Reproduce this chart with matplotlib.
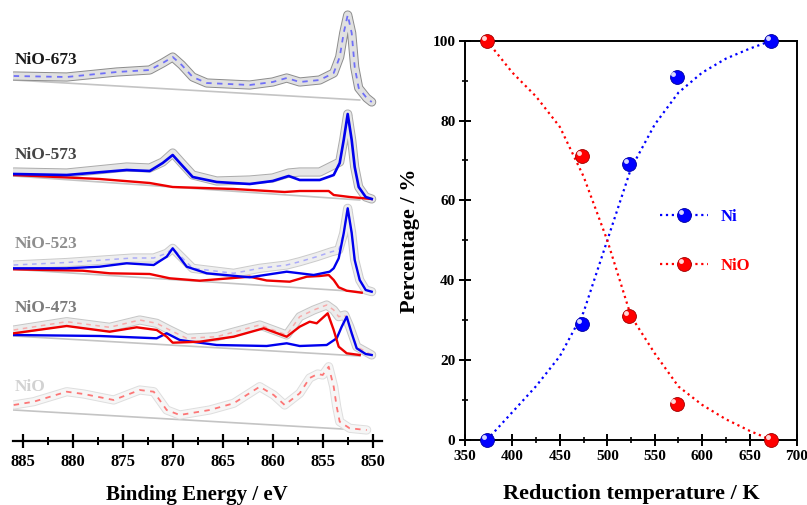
import numpy as np
import matplotlib
matplotlib.use("Agg")
import matplotlib.pyplot as plt
import matplotlib.patheffects as pe
from matplotlib.lines import Line2D
from matplotlib.legend_handler import HandlerLine2D
from matplotlib.transforms import ScaledTranslation
from matplotlib.ticker import MultipleLocator

plt.rcParams['font.family'] = ['Liberation Serif', 'DejaVu Serif']
plt.rcParams['font.weight'] = 'bold'

# ---- left panel: Ni 2p XPS spectra (binding energy in eV, stacked intensity a.u.) ----
ev_673 = [885.9, 880.6, 875.6, 872.3, 871.0, 870.0, 869.1, 868.0, 866.6, 862.3, 860.0, 858.6,
          857.3, 855.3, 853.9, 853.3, 852.9, 852.5, 852.1, 851.8, 851.4, 850.6, 850.1]
data_673 = [365, 364, 369, 371, 378, 384, 376, 364, 358, 356, 359, 363,
            359, 361, 368, 384, 408, 426, 408, 374, 353, 343, 339]

ev_573 = [885.9, 880.6, 874.6, 872.3, 871.0, 870.0, 869.1, 868.0, 865.6, 862.3, 860.0, 858.4,
          857.3, 855.3, 853.9, 853.3, 852.9, 852.5, 852.1, 851.8, 851.4, 850.7, 850.1]
data_573 = [269, 268, 274, 273, 279, 288, 278, 266, 260, 261, 263, 268,
            269, 269, 276, 279, 301, 327, 301, 274, 254, 244, 242]
ni_573 = [267, 266, 271, 270, 278, 286, 276, 264, 259, 257, 260, 265,
          261, 261, 266, 278, 301, 327, 301, 274, 254, 244, 242]
ev_573_nio = [885.9, 877.3, 872.3, 870.0, 863.9, 858.8, 857.3, 854.4, 853.9, 852.3, 850.1]
nio_573 = [266, 262, 258, 254, 252, 249, 250, 250, 246, 244, 242]

ev_523 = [885.9, 880.6, 874.0, 871.9, 870.6, 870.0, 868.0, 863.9, 861.3, 858.6, 857.3, 855.6,
          854.1, 853.4, 852.9, 852.5, 852.1, 851.8, 851.3, 850.7, 850.1]
data_523 = [176, 178.5, 183, 183, 187.7, 192.7, 172.7, 167.7, 172.7, 176, 179.3, 184.3,
            189.3, 191, 207.7, 232.7, 208, 181, 161, 151, 149.3]
ev_523_ni = [885.9, 880.6, 877.3, 874.6, 871.9, 870.6, 870.0, 868.6, 866.6, 862.3, 858.6, 855.9,
             854.3, 853.9, 853.4, 852.9, 852.5, 852.1, 851.8, 851.3, 850.7, 850.1]
ni_523 = [172.7, 172.7, 174.3, 177.7, 176, 184.3, 192.7, 174.3, 167.7, 163.7, 169.3, 166,
          169.3, 172.7, 182.7, 207.7, 232.7, 208, 181, 161, 151, 149.3]
ev_523_nio = [885.9, 879.0, 876.3, 872.3, 870.3, 867.3, 862.3, 860.6, 858.3, 856.6, 855.3, 854.4,
              853.9, 853.4, 852.6, 851.1]
nio_523 = [171.7, 170.3, 167.7, 167, 162.7, 160.3, 164.3, 160.5, 159.3, 164.3, 165, 166,
           161, 153.7, 150.3, 148.3]

ev_473 = [885.9, 880.6, 876.3, 873.3, 871.6, 870.3, 868.6, 865.6, 861.3, 858.6, 857.3, 855.9,
          854.6, 853.9, 853.4, 852.8, 852.3, 851.6, 850.1]
data_473 = [111, 119.3, 113.7, 121, 117.7, 111, 102.7, 104.3, 116, 106, 124.3, 131,
            136, 131, 124.3, 126, 114.3, 94.3, 86]
ev_473_ni = [885.9, 877.3, 871.6, 870.6, 869.3, 865.6, 860.6, 858.6, 857.3, 854.6, 853.6, 853.1,
             852.6, 852.1, 851.6, 850.7, 850.1]
ni_473 = [106, 105, 102.7, 107.7, 101, 96, 95, 97.7, 95, 96, 102.7, 114.3,
          124.3, 107.7, 92.7, 87, 86]
ev_473_nio = [885.9, 880.6, 876.3, 873.6, 871.6, 870.6, 870.0, 867.3, 863.9, 860.9, 858.6, 857.3,
              856.3, 855.6, 854.5, 853.9, 853.4, 852.6, 851.3]
nio_473 = [107.7, 115, 109.3, 113.7, 111, 104.3, 98.3, 99.3, 104.3, 112.7, 104.3, 114.3,
           119.3, 117.7, 127.7, 111, 94.3, 87.7, 86]

ev_nio = [885.9, 883.9, 880.6, 878.9, 875.9, 873.3, 871.9, 870.6, 869.3, 866.3, 863.9, 861.3,
          859.9, 858.8, 857.3, 856.3, 855.5, 855.0, 854.4, 853.9, 853.6, 853.3, 852.3, 850.6]
data_nio = [36, 39.3, 49.3, 47, 41, 51, 49.3, 31, 26, 31, 37.7, 54.3,
            46, 36, 47.7, 63, 67, 66, 74.3, 54.3, 34.3, 19.3, 12.7, 11]

bg_ev = [885.9, 851.3]
bg_673 = [361, 341]
bg_573 = [265, 241]
bg_523 = [171.7, 149.3]
bg_473 = [105, 85]
bg_nio = [31, 11]

sample_names = ['NiO-673', 'NiO-573', 'NiO-523', 'NiO-473', 'NiO']
label_y = [381, 286, 197, 133, 54]
label_colors = ['#1a1a1a', '#454545', '#8e8e8e', '#7c7c7c', '#d2d2d2']

# ---- right panel: phase fractions vs reduction temperature ----
temps = [373, 473, 523, 573, 673]
ni_pct = [0, 29, 69, 91, 100]
nio_pct = [100, 71, 31, 9, 0]
fit_t = [373, 400, 425, 450, 475, 500, 525, 550, 575, 600, 625, 650, 673]
ni_fit = [0, 7, 13.5, 21, 32, 50, 68, 79, 87, 92, 95.5, 98, 100]
nio_fit = [100, 92, 86, 78.4, 66, 50, 31, 21.7, 13.4, 8.8, 5.2, 2.3, 0]

BLUE = '#0000ff'
RED = '#ff0000'

fig = plt.figure(figsize=(8.07, 5.05), dpi=100)

# left
ax1 = fig.add_axes([12.7 / 807, 64 / 505, 369 / 807, 436 / 505])
ax1.set_xlim(886.0, 849.1)
ax1.set_ylim(0, 436)


def band(ax, x, y, edge, face):
    # data points drawn as a band of open grey circles
    ax.plot(x, y, color=face, lw=5.2, solid_capstyle='round', solid_joinstyle='round', zorder=2,
            path_effects=[pe.Stroke(linewidth=6.6, foreground=edge), pe.Normal()])


def bgline(ax, y):
    ax.plot(bg_ev, y, color='#c4c4c4', lw=1.2, zorder=1)


# NiO-673
bgline(ax1, bg_673)
band(ax1, ev_673, data_673, '#8c8c8c', '#e0e0e0')
ax1.plot(ev_673, data_673, color='#4a4aff', lw=1.3, ls=(0, (3, 3)), alpha=0.75, zorder=3)

# NiO-573
bgline(ax1, bg_573)
band(ax1, ev_573, data_573, '#ababab', '#e6e6e6')
ax1.plot(ev_573_nio, nio_573, color='#ee0000', lw=1.7, zorder=4)
ax1.plot(ev_573, ni_573, color='#0000ee', lw=1.9, zorder=4)

# NiO-523
bgline(ax1, bg_523)
band(ax1, ev_523, data_523, '#cbcbcb', '#eeeeee')
ax1.plot(ev_523, data_523, color='#8080ff', lw=1.1, ls=(0, (3, 3)), alpha=0.6, zorder=3)
ax1.plot(ev_523_nio, nio_523, color='#ee0000', lw=1.7, zorder=4)
ax1.plot(ev_523_ni, ni_523, color='#0000ee', lw=1.7, zorder=4)

# NiO-473
bgline(ax1, bg_473)
band(ax1, ev_473, data_473, '#c6c6c6', '#ececec')
ax1.plot(ev_473, data_473, color='#ff8080', lw=1.1, ls=(0, (3, 3)), alpha=0.6, zorder=3)
ax1.plot(ev_473_ni, ni_473, color='#0000ee', lw=1.7, zorder=4)
ax1.plot(ev_473_nio, nio_473, color='#ee0000', lw=1.7, zorder=4)

# NiO
bgline(ax1, bg_nio)
band(ax1, ev_nio, data_nio, '#dedede', '#f6f6f6')
ax1.plot(ev_nio, data_nio, color='#ff4040', lw=1.3, ls=(0, (3, 3)), alpha=0.7, zorder=3)

for name, yy, c in zip(sample_names, label_y, label_colors):
    ax1.text(885.8, yy, name, color=c, fontsize=12.5, fontweight='bold', va='center', ha='left')

for s in ['top', 'right', 'left']:
    ax1.spines[s].set_visible(False)
ax1.spines['bottom'].set_linewidth(1.6)
ax1.set_yticks([])
ax1.xaxis.set_major_locator(MultipleLocator(5))
ax1.xaxis.set_minor_locator(MultipleLocator(2.5))
ax1.tick_params(axis='x', which='major', direction='inout', length=10, width=1.6, labelsize=12, pad=4)
ax1.tick_params(axis='x', which='minor', direction='inout', length=6, width=1.4)
ax1.set_xlabel('Binding Energy / eV', fontsize=15, fontweight='bold', labelpad=11)

# right
ax2 = fig.add_axes([465 / 807, 65 / 505, 332 / 807, 399.3 / 505])
ax2.set_xlim(350, 700)
ax2.set_ylim(0, 100)

ax2.plot(fit_t, ni_fit, color=BLUE, ls=':', lw=1.6, zorder=2)
ax2.plot(fit_t, nio_fit, color=RED, ls=':', lw=1.6, zorder=2)

hl = ax2.transData + ScaledTranslation(-2.2 / 72, 2.2 / 72, fig.dpi_scale_trans)
for yv, col, dark in [(ni_pct, BLUE, '#0000a0'), (nio_pct, RED, '#a00000')]:
    ax2.plot(temps, yv, 'o', ms=10, color=col, mec=dark, mew=0.6, clip_on=False, zorder=5)
    ax2.plot(temps, yv, 'o', ms=3.5, color='white', mew=0, alpha=0.85, transform=hl,
             clip_on=False, zorder=6)


class BallHandler(HandlerLine2D):
    def create_artists(self, legend, orig_handle, xdescent, ydescent, width, height,
                       fontsize, trans):
        arts = super().create_artists(legend, orig_handle, xdescent, ydescent, width, height,
                                      fontsize, trans)
        mk = arts[-1]
        xd, yd = mk.get_data()
        shine = Line2D(np.asarray(xd) - 2.2, np.asarray(yd) + 2.2, marker='o', ms=3.5,
                       color='white', mew=0, alpha=0.85, ls='none', transform=trans)
        return arts + [shine]


h_ni = Line2D([], [], color=BLUE, ls=':', lw=1.6, marker='o', ms=10, mec='#0000a0', mew=0.6)
h_nio = Line2D([], [], color=RED, ls=':', lw=1.6, marker='o', ms=10, mec='#a00000', mew=0.6)
leg = ax2.legend([h_ni, h_nio], ['Ni', 'NiO'], loc='center left', bbox_to_anchor=(0.587, 0.497),
                 frameon=False, fontsize=12, handlelength=2.9, handletextpad=0.75,
                 labelspacing=2.0, borderpad=0, borderaxespad=0, numpoints=1,
                 handler_map={Line2D: BallHandler(numpoints=1)})
for t, c in zip(leg.get_texts(), [BLUE, RED]):
    t.set_color(c)
    t.set_fontweight('bold')

for s in ax2.spines.values():
    s.set_linewidth(1.4)
ax2.xaxis.set_major_locator(MultipleLocator(50))
ax2.xaxis.set_minor_locator(MultipleLocator(25))
ax2.yaxis.set_major_locator(MultipleLocator(20))
ax2.yaxis.set_minor_locator(MultipleLocator(10))
ax2.tick_params(which='major', direction='inout', length=8, width=1.4, labelsize=11, pad=3)
ax2.tick_params(which='minor', direction='inout', length=5, width=1.2)
ax2.set_xlabel('Reduction temperature / K', fontsize=16, fontweight='bold', labelpad=15)
ax2.set_ylabel('Percentage / %', fontsize=16, fontweight='bold', labelpad=9)

fig.savefig('out.png', dpi=100)
